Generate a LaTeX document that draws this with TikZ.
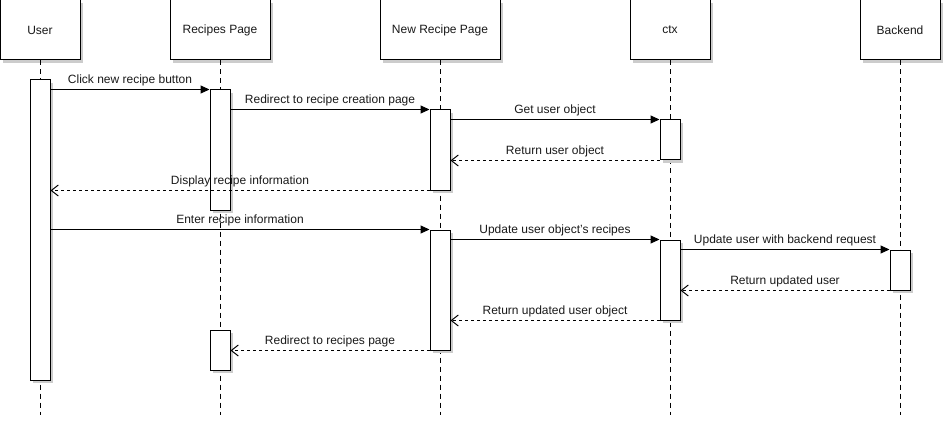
\documentclass[tikz,border=0pt]{standalone}
\usepackage{fontspec}
\setmainfont{Liberation Sans}
\usetikzlibrary{arrows.meta,shadows}
\begin{document}
\begin{tikzpicture}[x=1pt,y=-1pt,
  every node/.style={font=\fontsize{12}{14}\selectfont, text=black!90},
  shad/.style={drop shadow={shadow xshift=3pt, shadow yshift=-3pt, fill=black!20, opacity=1}},
  head/.style={draw, line width=1pt, fill=white, shad, minimum height=60pt, inner sep=0pt},
  actbox/.style={draw, line width=1pt, fill=white, shad, minimum width=20pt, inner sep=0pt},
  lifeline/.style={line width=1pt, dash pattern=on 5pt off 4pt},
  call/.style={line width=1pt, -{Triangle[length=9pt,width=8pt]}},
  reply/.style={line width=1pt, dash pattern=on 3pt off 3pt, -{Straight Barb[length=7pt,width=11pt,line width=1pt]}},
  lbl/.style={midway, anchor=base, yshift=6pt, inner sep=0pt}
]
\useasboundingbox (0,0) rectangle (945,425);

% heads
\node[head, minimum width=80pt]  (hu) at (40,30)  {User};
\node[head, minimum width=100pt] (hr) at (220,30) {Recipes Page};
\node[head, minimum width=120pt] (hn) at (440,30) {New Recipe Page};
\node[head, minimum width=80pt]  (hc) at (670,30) {ctx};
\node[head, minimum width=80pt]  (hb) at (900,30) {Backend};

% lifeline ends
\coordinate (eu) at (40,415);
\coordinate (er) at (220,415);
\coordinate (en) at (440,415);
\coordinate (ec) at (670,415);
\coordinate (eb) at (900,415);
\draw[lifeline] (hu.south) -- (eu);
\draw[lifeline] (hr.south) -- (er);
\draw[lifeline] (hn.south) -- (en);
\draw[lifeline] (hc.south) -- (ec);
\draw[lifeline] (hb.south) -- (eb);

% activations
\node[actbox, minimum height=300pt] (ua)  at (40,230)  {};
\node[actbox, minimum height=120pt] (ra)  at (220,150) {};
\node[actbox, minimum height=40pt]  (ra2) at (220,350) {};
\node[actbox, minimum height=80pt]  (na)  at (440,150) {};
\node[actbox, minimum height=120pt] (na2) at (440,290) {};
\node[actbox, minimum height=40pt]  (ca)  at (670,140) {};
\node[actbox, minimum height=80pt]  (ca2) at (670,280) {};
\node[actbox, minimum height=40pt]  (ba)  at (900,270) {};

% messages
\draw[call] (ua.east |- ra.north) -- (ra.north west) node[lbl] {Click new recipe button};
\draw[call] (ra.east |- na.north) -- (na.north west) node[lbl] {Redirect to recipe creation page};
\draw[call] (na.east |- ca.north) -- (ca.north west) node[lbl] {Get user object};
\draw[reply] (ca.south west) -- (na.east |- ca.south) node[lbl] {Return user object};
\draw[reply] (na.south west) -- (ua.east |- na.south) node[lbl] {Display recipe information};
\draw[call] (ua.east |- na2.north) -- (na2.north west) node[lbl] {Enter recipe information};
\draw[call] (na2.east |- ca2.north) -- (ca2.north west) node[lbl] {Update user object's recipes};
\draw[call] (ca2.east |- ba.north) -- (ba.north west) node[lbl] {Update user with backend request};
\draw[reply] (ba.south west) -- (ca2.east |- ba.south) node[lbl] {Return updated user};
\draw[reply] (ca2.south west) -- (na2.east |- ca2.south) node[lbl] {Return updated user object};
\draw[reply] (na2.south west) -- (ra2.east |- na2.south) node[lbl] {Redirect to recipes page};
\end{tikzpicture}
\end{document}
